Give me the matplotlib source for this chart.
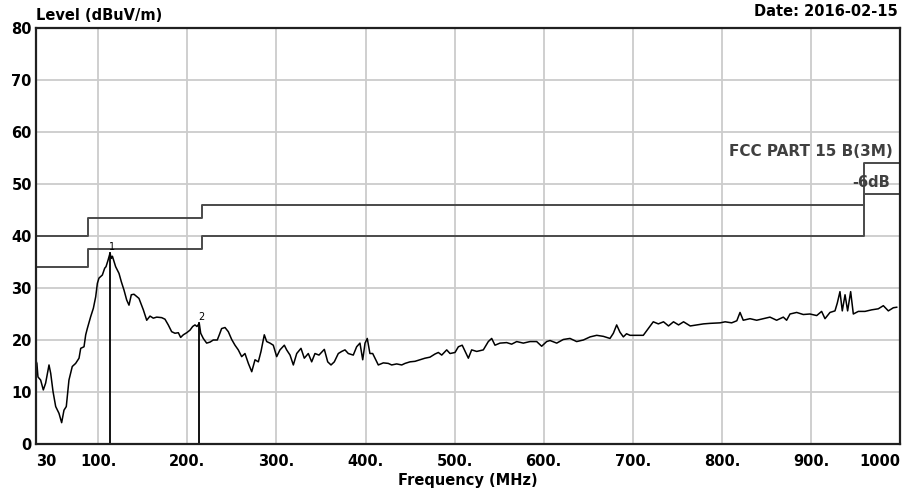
import matplotlib
matplotlib.use("Agg")
import matplotlib.pyplot as plt

plt.rcParams['font.family'] = ['DejaVu Sans']
plt.rcParams['font.weight'] = 'bold'

freq = [30.0, 31.0, 32.2, 35.2, 38.2, 40.8, 44.6, 46.5, 49.1, 52.1, 55.8, 58.8, 61.4, 64.0,
        67.0, 70.7, 74.5, 78.3, 80.2, 83.9, 85.8, 87.6, 91.4, 94.4, 97.0, 98.9, 100.7,
        104.5, 107.1, 108.6, 110.8, 113.1, 114.6, 115.8, 119.4, 123.2, 125.8, 128.8,
        131.8, 134.4, 137.0, 140.0, 145.6, 150.5, 154.3, 158.0, 161.7, 165.5, 171.1,
        174.8, 178.5, 182.3, 186.0, 189.8, 192.4, 195.4, 199.2, 202.9, 205.9, 208.5,
        210.7, 213.3, 214.9, 217.8, 221.6, 225.4, 229.0, 233.5, 235.8, 238.4, 242.2,
        245.9, 249.7, 253.4, 257.1, 260.9, 264.6, 268.4, 272.2, 275.9, 279.6, 282.6,
        286.3, 289.0, 292.7, 296.4, 300.2, 303.9, 308.8, 311.4, 315.2, 318.9, 322.7,
        327.5, 331.2, 335.7, 339.5, 343.2, 347.7, 353.7, 357.5, 361.2, 364.9, 369.4,
        373.2, 376.9, 380.6, 386.2, 390.0, 393.7, 396.8, 399.4, 401.9, 404.9, 408.0,
        410.6, 414.3, 419.9, 425.5, 429.3, 434.9, 440.6, 444.3, 449.9, 455.5, 461.1,
        466.7, 472.3, 477.9, 481.7, 485.5, 491.1, 494.8, 500.4, 504.2, 508.5, 515.4,
        519.1, 524.8, 532.2, 537.8, 541.6, 545.3, 550.9, 558.4, 564.0, 569.7, 577.1,
        584.6, 592.1, 597.7, 603.3, 607.1, 614.6, 622.0, 629.5, 637.0, 644.5, 652.1,
        659.5, 667.0, 674.4, 678.2, 681.9, 685.6, 689.4, 693.0, 696.9, 704.4, 711.8,
        717.4, 723.0, 728.7, 734.5, 740.1, 745.7, 751.4, 757.0, 764.5, 772.0, 779.4,
        786.8, 798.1, 803.7, 811.0, 816.8, 820.4, 824.0, 831.6, 839.1, 846.5, 854.0,
        861.5, 869.0, 872.7, 876.5, 884.0, 891.4, 898.9, 906.5, 912.0, 915.8, 921.4,
        927.0, 929.6, 932.6, 935.2, 938.3, 941.2, 944.6, 947.6, 953.2, 960.7, 968.2,
        975.6, 981.3, 986.9, 992.5, 996.3]
level = [16.0, 15.5, 12.9, 12.3, 10.4, 11.7, 15.2, 13.6, 10.1, 7.2, 5.9, 4.1, 6.5, 7.2,
         12.3, 14.9, 15.5, 16.5, 18.4, 18.7, 21.0, 22.2, 24.5, 26.1, 28.3, 30.9, 31.9,
         32.5, 33.8, 34.1, 35.3, 36.7, 35.7, 36.1, 34.1, 32.8, 31.2, 29.6,
         27.7, 26.7, 28.7, 28.8, 28.0, 25.8, 23.8, 24.6, 24.2, 24.4, 24.3,
         24.0, 22.9, 21.6, 21.3, 21.4, 20.5, 21.0, 21.4, 21.9, 22.6, 22.9,
         22.6, 23.2, 21.3, 20.3, 19.4, 19.6, 20.0, 20.0, 21.0, 22.2, 22.4,
         21.6, 20.1, 19.0, 18.1, 16.8, 17.4, 15.5, 13.9, 16.2, 15.8, 17.8,
         21.0, 19.7, 19.4, 19.0, 16.8, 18.1, 19.0, 18.1, 17.1, 15.2, 17.4,
         18.4, 16.5, 17.4, 15.8, 17.4, 17.1, 18.2, 15.8, 15.2, 15.8, 17.4,
         17.8, 18.1, 17.4, 17.1, 18.7, 19.4, 16.2, 19.4, 20.3, 17.4, 17.4,
         16.5, 15.2, 15.6, 15.5, 15.2, 15.4, 15.2, 15.5, 15.8, 15.9, 16.2,
         16.5, 16.7, 17.3, 17.6, 17.1, 18.1, 17.4, 17.6, 18.7, 19.0, 16.5,
         18.1, 17.8, 18.1, 19.7, 20.3, 19.0, 19.4, 19.5, 19.2, 19.7, 19.4,
         19.7, 19.7, 18.8, 19.7, 19.9, 19.4, 20.1, 20.3, 19.7, 20.0, 20.6,
         20.9, 20.7, 20.3, 21.3, 22.9, 21.5, 20.6, 21.2, 20.9, 20.9, 20.9,
         22.2, 23.5, 23.1, 23.5, 22.7, 23.5, 22.9, 23.5, 22.7, 22.9, 23.1,
         23.2, 23.3, 23.5, 23.3, 23.7, 25.3, 23.8, 24.1, 23.8, 24.1, 24.4,
         23.8, 24.4, 23.8, 25.0, 25.3, 24.9, 25.0, 24.7, 25.5, 24.1, 25.3,
         25.6, 27.1, 29.3, 25.6, 28.7, 25.6, 29.3, 25.0, 25.5, 25.5, 25.8,
         26.0, 26.6, 25.6, 26.2, 26.3]

# FCC Part 15 B (3m) limit and the -6 dB line
limit_freq = [30, 88, 88, 216, 216, 960, 960, 1000]
limit_lvl = [40, 40, 43.5, 43.5, 46, 46, 54, 54]
limit6_lvl = [34, 34, 37.5, 37.5, 40, 40, 48, 48]

# markers
mk_freq = [113.1, 213.3]
mk_lvl = [36.7, 23.2]
mk_label = ["1", "2"]

fig = plt.figure(figsize=(9.14, 4.93), dpi=100)
ax = fig.add_axes([36/914, 49/493, 864/914, 416/493])

xt = [100, 200, 300, 400, 500, 600, 700, 800, 900]
for x in xt:
    ax.axvline(x, color="#cccccc", lw=1.3, zorder=0)
for y in range(10, 80, 10):
    ax.axhline(y, color="#cccccc", lw=1.3, zorder=0)

ax.plot(limit_freq, limit_lvl, color="#4a4a4a", lw=1.4)
ax.plot(limit_freq, limit6_lvl, color="#4a4a4a", lw=1.4)
ax.plot(freq, level, color="black", lw=1.1)

for f, l, t in zip(mk_freq, mk_lvl, mk_label):
    ax.plot([f, f], [0, l], color="black", lw=1.3)
    ax.text(f + 2, l + 0.3, t, fontsize=7, ha="center", va="bottom", fontweight="normal")

ax.text(992, 56.3, "FCC PART 15 B(3M)", ha="right", va="center", fontsize=11, color="#404040")
ax.text(989, 50.3, "-6dB", ha="right", va="center", fontsize=10.5, color="#404040")

ax.set_xlim(30, 1000)
ax.set_ylim(0, 80)
ax.set_xticks([30] + xt + [1000])
ax.set_xticklabels(["30"] + ["%d." % x for x in xt] + ["1000"])
ax.set_yticks(range(0, 81, 10))
ax.tick_params(axis="both", length=0, labelsize=10.5)
ax.tick_params(axis="x", pad=7)
ax.tick_params(axis="y", pad=3)
tl = ax.get_xticklabels()
tl[0].set_ha("left")
tl[-1].set_ha("right")
for s in ax.spines.values():
    s.set_linewidth(1.6)
    s.set_color("#202020")

fig.text(468/914, 1 - 481/493, "Frequency (MHz)", fontsize=10.5, ha="center", va="center")
fig.text(36/914, 1 - 15/493, "Level (dBuV/m)", fontsize=10.5, ha="left", va="center")
fig.text(898/914, 1 - 12/493, "Date: 2016-02-15", fontsize=10.5, ha="right", va="center")

fig.savefig("out.png", dpi=100)
